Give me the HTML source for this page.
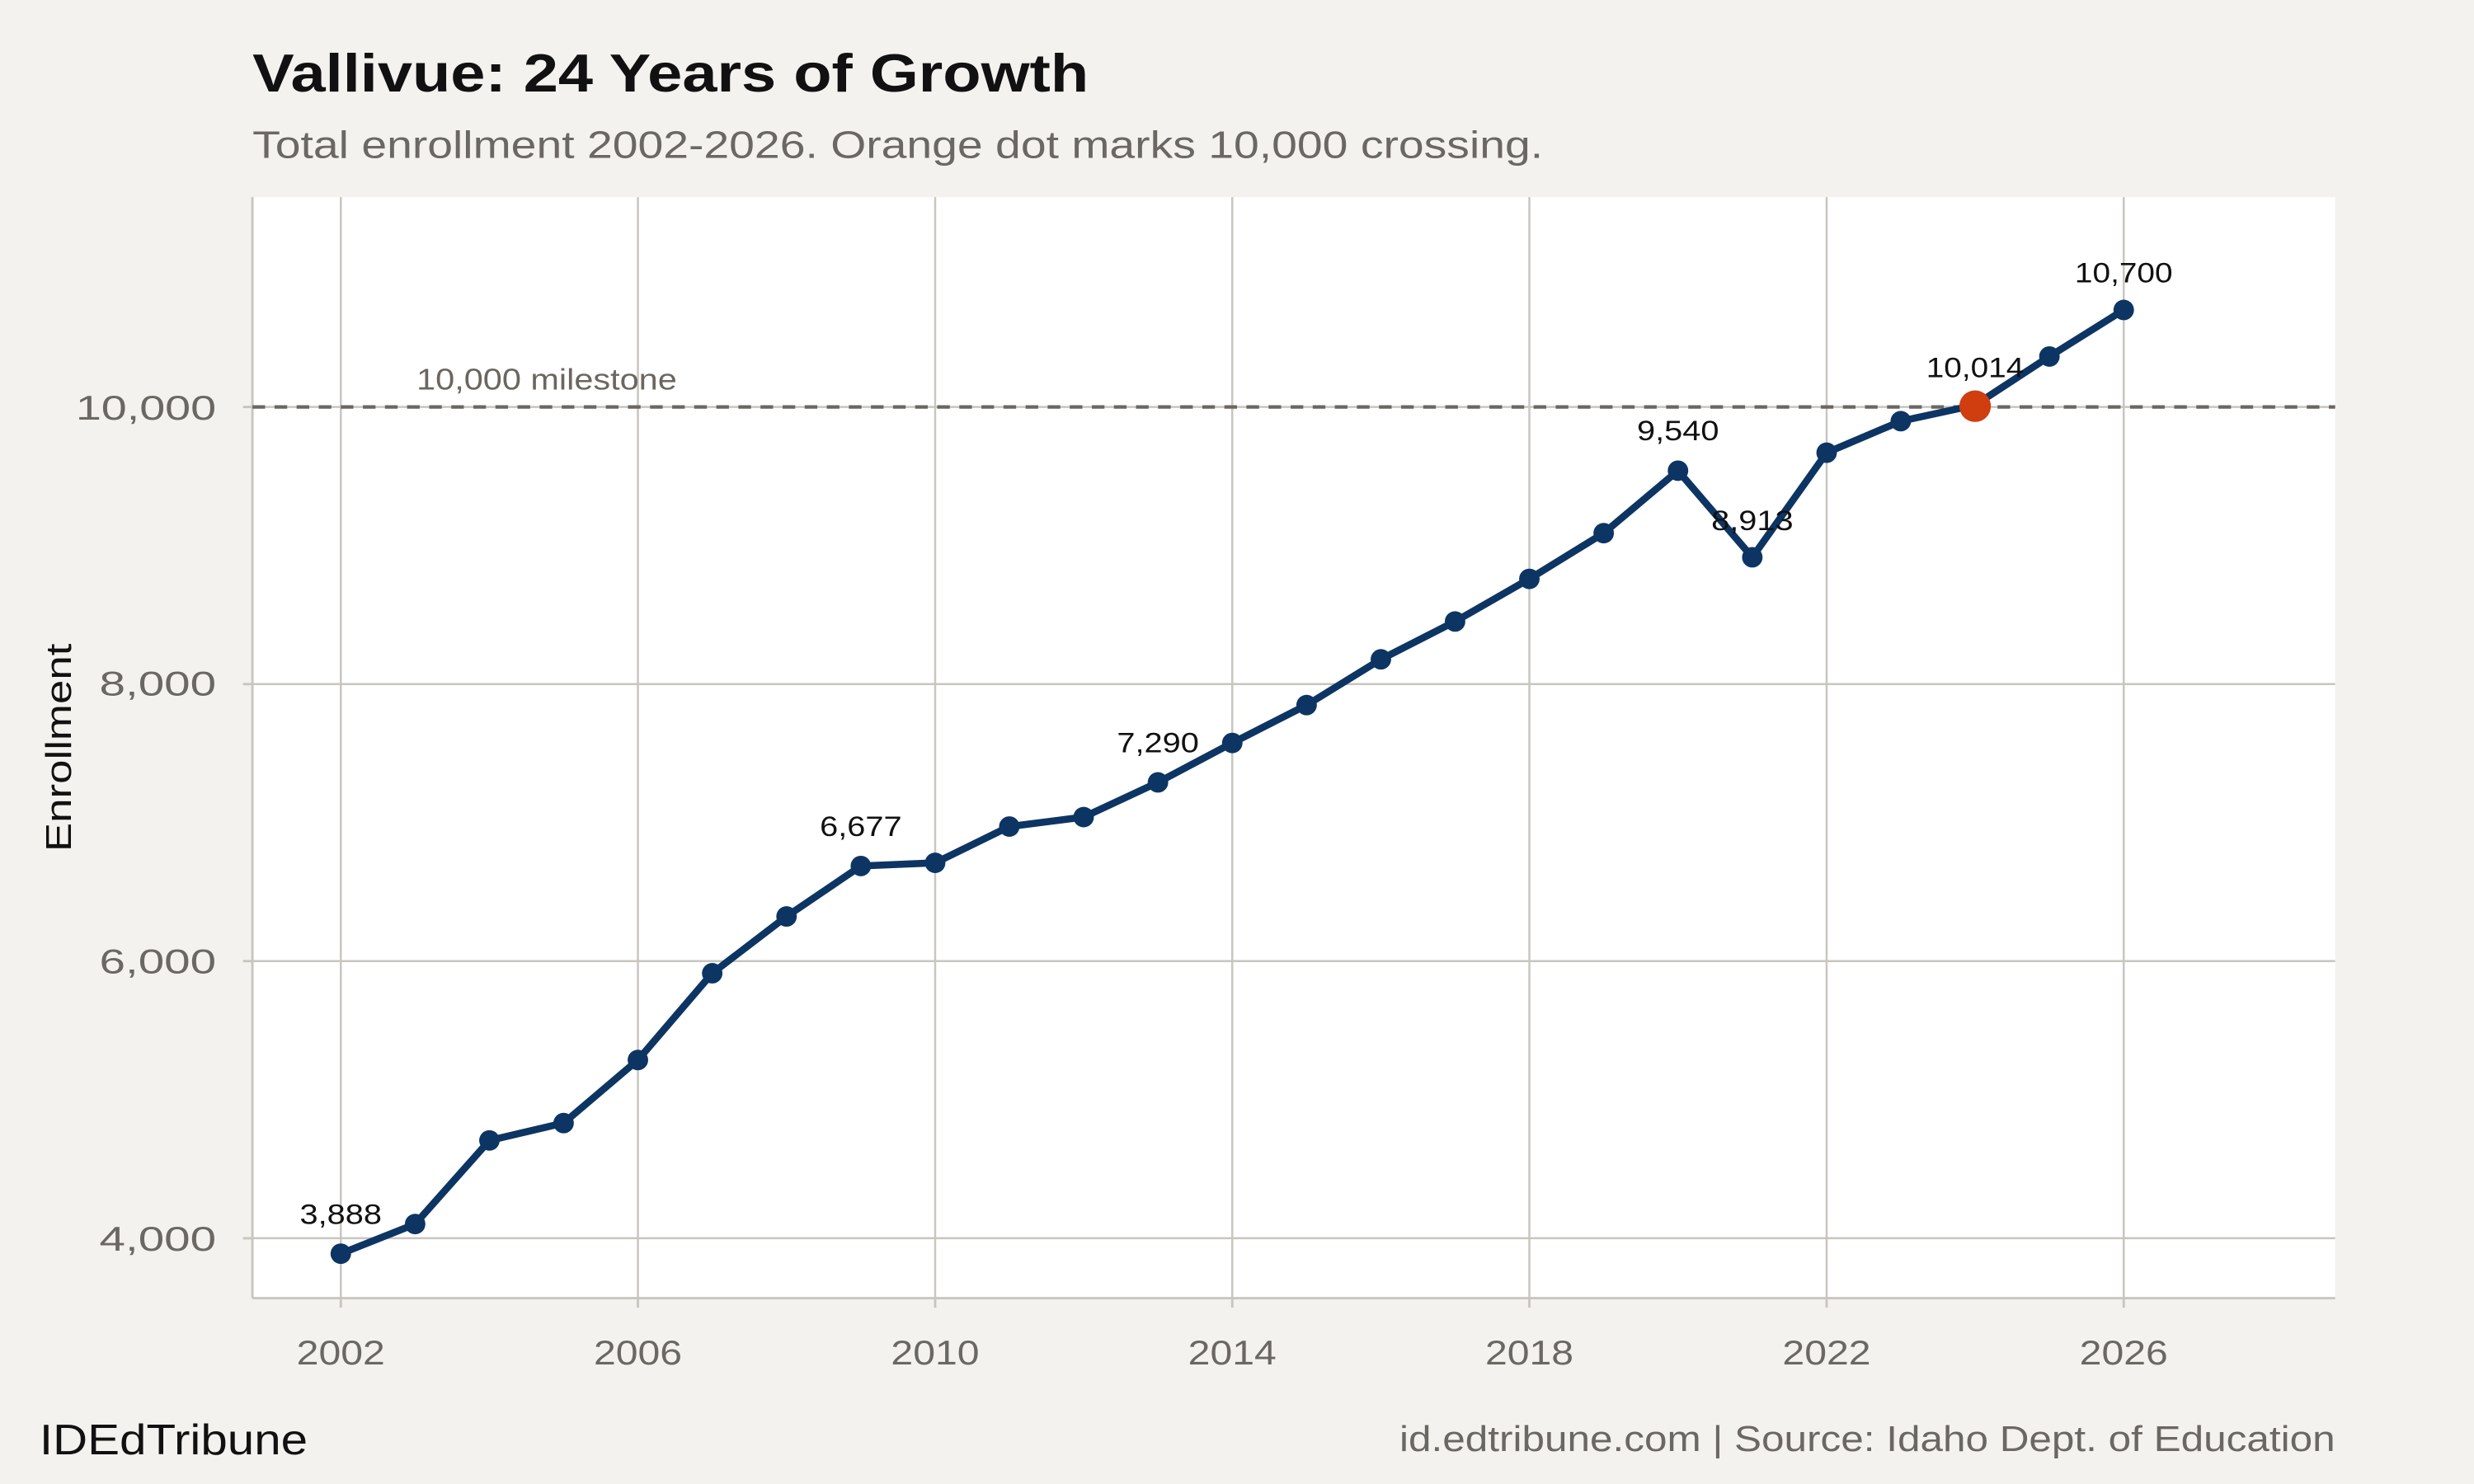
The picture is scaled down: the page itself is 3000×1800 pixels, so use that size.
<!DOCTYPE html>
<html><head><meta charset="utf-8"><style>html,body{margin:0;padding:0;background:#f4f2ee}svg{display:block}</style></head>
<body>
<svg width="3000" height="1800" viewBox="0 0 1568 940.8" preserveAspectRatio="none" xmlns="http://www.w3.org/2000/svg" font-family="Liberation Sans, sans-serif">
<rect width="1568" height="941" fill="#f4f2ee"/>
<text x="160" y="58" font-size="34" font-weight="bold" fill="#111" textLength="530" lengthAdjust="spacingAndGlyphs">Vallivue: 24 Years of Growth</text>
<text x="160" y="100" font-size="24" fill="#6b6864" textLength="818" lengthAdjust="spacingAndGlyphs">Total enrollment 2002-2026. Orange dot marks 10,000 crossing.</text>
<rect x="160" y="125" width="1320" height="698" fill="#fff"/>
<g stroke="#c9c5bf" stroke-width="1.3">
<line x1="216" y1="125" x2="216" y2="823"/><line x1="404.3" y1="125" x2="404.3" y2="823"/><line x1="592.7" y1="125" x2="592.7" y2="823"/><line x1="781" y1="125" x2="781" y2="823"/><line x1="969.3" y1="125" x2="969.3" y2="823"/><line x1="1157.7" y1="125" x2="1157.7" y2="823"/><line x1="1346" y1="125" x2="1346" y2="823"/>
<line x1="160" y1="258" x2="1480" y2="258"/><line x1="160" y1="433.7" x2="1480" y2="433.7"/><line x1="160" y1="609.3" x2="1480" y2="609.3"/><line x1="160" y1="785" x2="1480" y2="785"/>
</g>
<g stroke="#c9c5bf" stroke-width="1.5"><line x1="160" y1="125" x2="160" y2="823"/><line x1="160" y1="823" x2="1480" y2="823"/>
<line x1="154" y1="258" x2="160" y2="258"/><line x1="154" y1="433.7" x2="160" y2="433.7"/><line x1="154" y1="609.3" x2="160" y2="609.3"/><line x1="154" y1="785" x2="160" y2="785"/>
<line x1="216" y1="823" x2="216" y2="829"/><line x1="404.3" y1="823" x2="404.3" y2="829"/><line x1="592.7" y1="823" x2="592.7" y2="829"/><line x1="781" y1="823" x2="781" y2="829"/><line x1="969.3" y1="823" x2="969.3" y2="829"/><line x1="1157.7" y1="823" x2="1157.7" y2="829"/><line x1="1346" y1="823" x2="1346" y2="829"/></g>
<line x1="160" y1="258" x2="1480" y2="258" stroke="#6b6660" stroke-width="2.2" stroke-dasharray="8,6"/>
<text x="264" y="247" font-size="19" fill="#6b6660" textLength="165" lengthAdjust="spacingAndGlyphs">10,000 milestone</text>
<g font-size="22" fill="#6b6864" text-anchor="end" lengthAdjust="spacingAndGlyphs"><text x="137" y="266" textLength="89" lengthAdjust="spacingAndGlyphs">10,000</text><text x="137" y="441" textLength="74" lengthAdjust="spacingAndGlyphs">8,000</text><text x="137" y="617" textLength="74" lengthAdjust="spacingAndGlyphs">6,000</text><text x="137" y="793" textLength="74" lengthAdjust="spacingAndGlyphs">4,000</text></g>
<g font-size="22" fill="#6b6864" text-anchor="middle"><text x="216" y="865" textLength="56" lengthAdjust="spacingAndGlyphs">2002</text><text x="404.3" y="865" textLength="56" lengthAdjust="spacingAndGlyphs">2006</text><text x="592.7" y="865" textLength="56" lengthAdjust="spacingAndGlyphs">2010</text><text x="781" y="865" textLength="56" lengthAdjust="spacingAndGlyphs">2014</text><text x="969.3" y="865" textLength="56" lengthAdjust="spacingAndGlyphs">2018</text><text x="1157.7" y="865" textLength="56" lengthAdjust="spacingAndGlyphs">2022</text><text x="1346" y="865" textLength="56" lengthAdjust="spacingAndGlyphs">2026</text></g>
<text transform="translate(45,474) rotate(-90)" font-size="23" fill="#111" text-anchor="middle" textLength="132" lengthAdjust="spacingAndGlyphs">Enrollment</text>
<polyline fill="none" stroke="#0d3563" stroke-width="4.5" stroke-linejoin="round" points="216,794.8 263.1,776 310.2,723 357.2,712 404.3,672 451.4,617 498.5,581 545.6,549 592.7,547 639.7,524 686.8,518 733.9,496 781,471 828.1,447 875.2,418 922.2,394 969.3,367 1016.4,338 1063.5,298.4 1110.6,353.3 1157.7,287 1204.7,267 1251.8,256.8 1298.9,226 1346,196.5"/>
<g fill="#0d3563"><circle cx="216" cy="794.8" r="6.5"/><circle cx="263.1" cy="776" r="6.5"/><circle cx="310.2" cy="723" r="6.5"/><circle cx="357.2" cy="712" r="6.5"/><circle cx="404.3" cy="672" r="6.5"/><circle cx="451.4" cy="617" r="6.5"/><circle cx="498.5" cy="581" r="6.5"/><circle cx="545.6" cy="549" r="6.5"/><circle cx="592.7" cy="547" r="6.5"/><circle cx="639.7" cy="524" r="6.5"/><circle cx="686.8" cy="518" r="6.5"/><circle cx="733.9" cy="496" r="6.5"/><circle cx="781" cy="471" r="6.5"/><circle cx="828.1" cy="447" r="6.5"/><circle cx="875.2" cy="418" r="6.5"/><circle cx="922.2" cy="394" r="6.5"/><circle cx="969.3" cy="367" r="6.5"/><circle cx="1016.4" cy="338" r="6.5"/><circle cx="1063.5" cy="298.4" r="6.5"/><circle cx="1110.6" cy="353.3" r="6.5"/><circle cx="1157.7" cy="287" r="6.5"/><circle cx="1204.7" cy="267" r="6.5"/><circle cx="1298.9" cy="226" r="6.5"/><circle cx="1346" cy="196.5" r="6.5"/></g>
<circle cx="1251.8" cy="257.5" r="10" fill="#d03d0e"/>
<g font-size="18" fill="#111" text-anchor="middle"><text x="216" y="776" textLength="52" lengthAdjust="spacingAndGlyphs">3,888</text><text x="545.6" y="530" textLength="52" lengthAdjust="spacingAndGlyphs">6,677</text><text x="733.9" y="477" textLength="52" lengthAdjust="spacingAndGlyphs">7,290</text><text x="1063.5" y="279" textLength="52" lengthAdjust="spacingAndGlyphs">9,540</text><text x="1110.6" y="336" textLength="52" lengthAdjust="spacingAndGlyphs">8,913</text><text x="1251.8" y="239" textLength="62" lengthAdjust="spacingAndGlyphs">10,014</text><text x="1346" y="179" textLength="62" lengthAdjust="spacingAndGlyphs">10,700</text></g>
<text x="25" y="922" font-size="27" fill="#111" textLength="170" lengthAdjust="spacingAndGlyphs">IDEdTribune</text>
<text x="1480" y="920" font-size="23" fill="#6b6864" text-anchor="end" textLength="593" lengthAdjust="spacingAndGlyphs">id.edtribune.com | Source: Idaho Dept. of Education</text>
</svg>
</body></html>
